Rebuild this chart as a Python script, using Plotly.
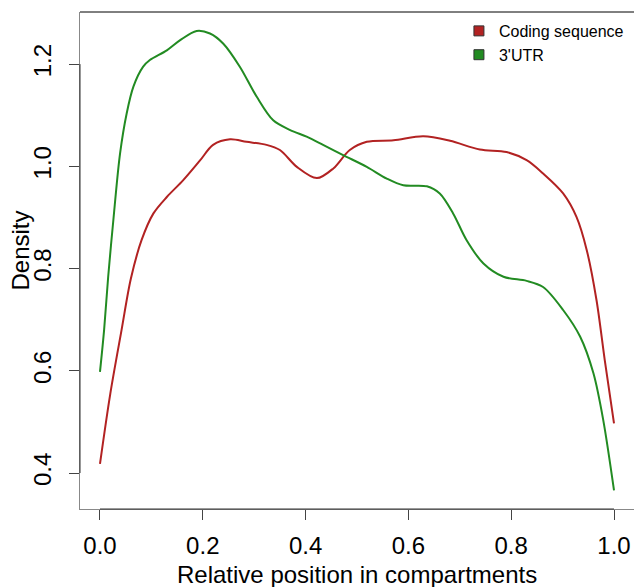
import plotly.graph_objects as go

# ---- data ----
cds_x = [0.000, 0.020, 0.042, 0.060, 0.081, 0.104, 0.130, 0.162, 0.195, 0.220,
         0.253, 0.285, 0.324, 0.350, 0.383, 0.422, 0.454, 0.486, 0.519, 0.571,
         0.629, 0.681, 0.739, 0.791, 0.830, 0.862, 0.901, 0.927, 0.947, 0.966,
         0.982, 1.000]
cds_y = [0.418, 0.555, 0.680, 0.780, 0.856, 0.908, 0.940, 0.973, 1.012, 1.042,
         1.053, 1.048, 1.042, 1.032, 0.999, 0.977, 0.996, 1.032, 1.048, 1.051,
         1.059, 1.050, 1.033, 1.028, 1.012, 0.986, 0.947, 0.901, 0.836, 0.738,
         0.621, 0.497]

utr_x = [0.000, 0.008, 0.016, 0.026, 0.039, 0.052, 0.065, 0.084, 0.097, 0.130,
         0.156, 0.188, 0.214, 0.240, 0.272, 0.305, 0.337, 0.370, 0.402, 0.434,
         0.473, 0.519, 0.558, 0.590, 0.636, 0.661, 0.687, 0.713, 0.746, 0.785,
         0.830, 0.862, 0.901, 0.934, 0.960, 0.979, 1.000]
utr_y = [0.598, 0.680, 0.785, 0.895, 1.025, 1.104, 1.156, 1.195, 1.208, 1.227,
         1.247, 1.265, 1.260, 1.240, 1.195, 1.136, 1.090, 1.071, 1.058, 1.042,
         1.022, 0.999, 0.976, 0.963, 0.961, 0.947, 0.908, 0.856, 0.810, 0.784,
         0.776, 0.764, 0.719, 0.667, 0.595, 0.504, 0.366]

series_names = ["Coding sequence", "3'UTR"]
series_colors = ["#B22222", "#228B22"]

x_ticks = [0.0, 0.2, 0.4, 0.6, 0.8, 1.0]
y_ticks = [0.4, 0.6, 0.8, 1.0, 1.2]

x_title = "Relative position in compartments"
y_title = "Density"

FONT = "Liberation Sans, Arial, Helvetica, sans-serif"

fig = go.Figure()
for xs, ys, col in [(cds_x, cds_y, series_colors[0]), (utr_x, utr_y, series_colors[1])]:
    fig.add_trace(go.Scatter(x=xs, y=ys, mode="lines",
                             line=dict(color=col, width=2, shape="spline", smoothing=0.9),
                             showlegend=False, hoverinfo="x+y"))
# legend entries (filled squares)
for name, col in zip(series_names, series_colors):
    fig.add_trace(go.Scatter(x=[None], y=[None], mode="markers", name=name,
                             marker=dict(symbol="square", size=10, color=col,
                                         line=dict(color="#333333", width=1))))

axis_common = dict(showgrid=False, zeroline=False, showline=True, linecolor="#888888",
                   linewidth=1, ticks="outside", ticklen=10, tickwidth=1, tickcolor="#444444",
                   tickfont=dict(family=FONT, size=24, color="#000000"),
                   automargin=False)

fig.update_layout(
    width=634, height=587,
    margin=dict(l=80, r=0, t=12, b=78),
    paper_bgcolor="white", plot_bgcolor="white",
    font=dict(family=FONT, color="#000000"),
    xaxis=dict(range=[-0.0389, 1.0389], tickvals=x_ticks,
               ticktext=["%.1f" % v for v in x_ticks], ticklabelstandoff=5,
               **axis_common),
    yaxis=dict(range=[0.3296, 1.302], tickvals=y_ticks,
               ticktext=["%.1f" % v for v in y_ticks], tickangle=-90,
               ticklabelstandoff=8,
               **axis_common),
    legend=dict(x=0.684, y=0.996, xanchor="left", yanchor="top",
                bgcolor="rgba(0,0,0,0)", borderwidth=0, tracegroupgap=0,
                font=dict(family=FONT, size=16, color="#000000")),
    annotations=[
        dict(text=x_title, xref="paper", yref="paper", x=0.5, y=0,
             xanchor="center", yanchor="middle", yshift=-65, showarrow=False,
             font=dict(family=FONT, size=24, color="#000000")),
        dict(text=y_title, xref="paper", yref="paper", x=0, y=0.5,
             xanchor="center", yanchor="middle", xshift=-60, yshift=10,
             textangle=-90, showarrow=False,
             font=dict(family=FONT, size=24, color="#000000")),
    ],
    shapes=[
        # top border of the box
        dict(type="line", xref="paper", yref="paper", x0=0, x1=1, y0=1, y1=1,
             line=dict(color="#000000", width=1)),
        # darker axis segments spanning the tick range
        dict(type="line", xref="x", yref="paper", x0=x_ticks[0], x1=x_ticks[-1], y0=0, y1=0,
             line=dict(color="#333333", width=1)),
        dict(type="line", xref="paper", yref="y", x0=0, x1=0, y0=y_ticks[0], y1=y_ticks[-1],
             line=dict(color="#333333", width=1)),
    ],
)

fig.write_html("out.html", config={"displayModeBar": False},
               post_script="document.body.style.margin='0';document.body.style.overflow='hidden';")
